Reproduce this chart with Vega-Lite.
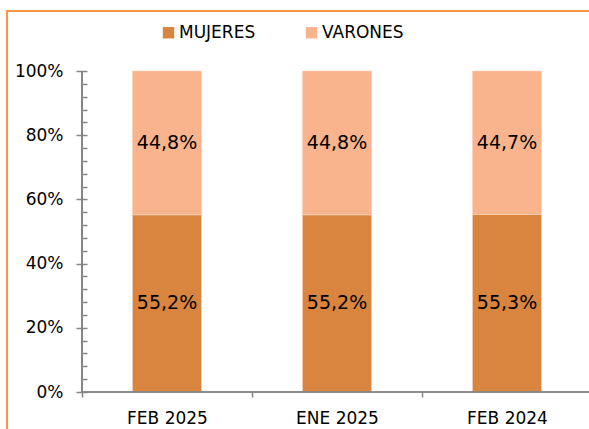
{
  "$schema": "https://vega.github.io/schema/vega-lite/v6.json",
  "width": 660,
  "height": 429,
  "padding": {"left": 7, "top": 11, "right": 0, "bottom": 0},
  "autosize": {"type": "none"},
  "background": "white",
  "config": {
    "locale": {"number": {"decimal": ",", "thousands": ".", "grouping": [3], "currency": ["", " €"]}},
    "view": {"stroke": "#F79646", "strokeWidth": 2},
    "font": "DejaVu Sans",
    "axis": {"labelFont": "DejaVu Sans", "labelColor": "#000000", "tickColor": "#868686", "domainColor": "#868686", "grid": false, "title": null}
  },
  "data": {
    "values": [
      {"periodo": "FEB 2025", "sexo": "MUJERES", "valor": 0.552},
      {"periodo": "FEB 2025", "sexo": "VARONES", "valor": 0.448},
      {"periodo": "ENE 2025", "sexo": "MUJERES", "valor": 0.552},
      {"periodo": "ENE 2025", "sexo": "VARONES", "valor": 0.448},
      {"periodo": "FEB 2024", "sexo": "MUJERES", "valor": 0.553},
      {"periodo": "FEB 2024", "sexo": "VARONES", "valor": 0.447}
    ]
  },
  "resolve": {"axis": {"y": "independent"}},
  "layer": [
    {
      "mark": {"type": "bar", "width": {"band": 0.406}, "stroke": "#FBD3BC", "strokeWidth": 0.6},
      "encoding": {
        "x": {
          "field": "periodo", "type": "nominal", "sort": ["FEB 2025", "ENE 2025", "FEB 2024"],
          "scale": {"paddingInner": 0, "paddingOuter": 0.44118},
          "axis": {"orient": "bottom", "offset": -48, "domain": false, "tickBand": "extent", "tickSize": 5, "tickWidth": 1.5, "labelFontSize": 17, "labelPadding": 13, "labelAngle": 0}
        },
        "y": {
          "field": "valor", "type": "quantitative", "stack": "zero",
          "scale": {"domain": [-0.14953, 1.18692], "nice": false, "zero": false},
          "axis": {"orient": "left", "offset": -75, "values": [0, 0.2, 0.4, 0.6, 0.8, 1], "format": ".0%", "domain": false, "tickSize": 6, "tickWidth": 1.5, "labelFontSize": 17, "labelPadding": 13}
        },
        "order": {"field": "sexo", "sort": "ascending"},
        "color": {
          "field": "sexo", "type": "nominal",
          "scale": {"domain": ["MUJERES", "VARONES"], "range": ["#D9843F", "#F9B48E"]},
          "legend": {"orient": "none", "legendX": 153, "legendY": 13, "direction": "horizontal", "title": null, "symbolType": "square", "symbolSize": 130, "symbolStrokeWidth": 0, "labelFontSize": 17, "labelFont": "DejaVu Sans", "labelColor": "#000000", "labelOffset": 2, "columnPadding": 47, "padding": 0}
        }
      }
    },
    {
      "transform": [
        {"stack": "valor", "groupby": ["periodo"], "sort": [{"field": "sexo"}], "as": ["v0", "v1"]},
        {"calculate": "(datum.v0 + datum.v1) / 2", "as": "mid"}
      ],
      "mark": {"type": "text", "fontSize": 19, "font": "DejaVu Sans", "color": "#000000", "baseline": "middle"},
      "encoding": {
        "x": {"field": "periodo", "type": "nominal", "sort": ["FEB 2025", "ENE 2025", "FEB 2024"]},
        "y": {
          "field": "mid", "type": "quantitative",
          "axis": {"orient": "left", "offset": -75, "values": [0, 0.04, 0.08, 0.12, 0.16, 0.2, 0.24, 0.28, 0.32, 0.36, 0.4, 0.44, 0.48, 0.52, 0.56, 0.6, 0.64, 0.68, 0.72, 0.76, 0.8, 0.84, 0.88, 0.92, 0.96, 1], "labels": false, "domain": false, "tickSize": -5, "tickWidth": 1.5}
        },
        "text": {"field": "valor", "type": "quantitative", "format": ".1%"}
      }
    },
    {
      "mark": {"type": "tick", "color": "#868686", "thickness": 1.5, "size": 171, "opacity": 1},
      "encoding": {
        "x": {"field": "periodo", "type": "nominal", "sort": ["FEB 2025", "ENE 2025", "FEB 2024"]},
        "y": {"datum": 0, "type": "quantitative", "axis": null}
      }
    },
    {
      "mark": {"type": "rule", "color": "#868686", "strokeWidth": 1.5},
      "encoding": {
        "x": {"datum": "FEB 2025", "type": "nominal", "bandPosition": 0},
        "y": {"datum": 0, "type": "quantitative", "axis": null},
        "y2": {"datum": 1}
      }
    }
  ]
}
